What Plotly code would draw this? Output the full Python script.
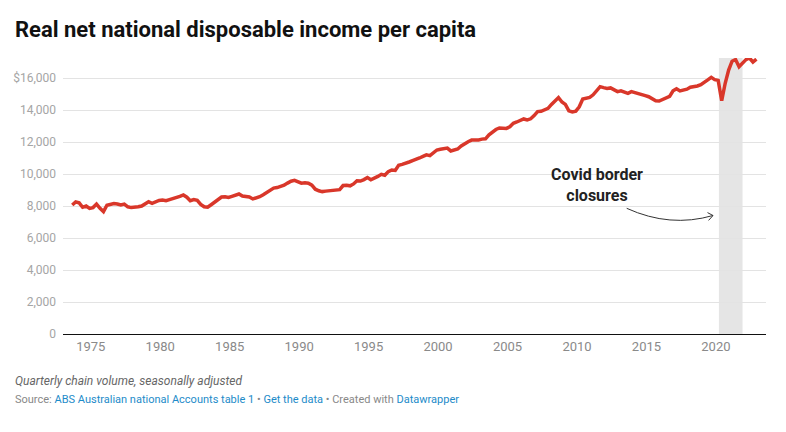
import plotly.graph_objects as go

# ---------------- data ----------------
start_year = 1973
start_quarter_month = 9
income = [
    8060, 8250,
    8200, 7920, 8000, 7850,
    7900, 8120, 7850, 7650,
    8050, 8120, 8150, 8120,
    8060, 8120, 7950, 7900,
    7900, 7950, 8000, 8120,
    8270, 8170, 8250, 8350,
    8370, 8330, 8400, 8450,
    8500, 8600, 8690, 8550,
    8330, 8400, 8350, 8100,
    7950, 7920, 8080, 8250,
    8420, 8560, 8580, 8530,
    8600, 8650, 8750, 8620,
    8600, 8560, 8440, 8500,
    8580, 8700, 8850, 9000,
    9120, 9150, 9200, 9300,
    9430, 9550, 9600, 9500,
    9430, 9450, 9420, 9300,
    9050, 8950, 8900, 8930,
    8960, 8980, 9000, 9020,
    9280, 9300, 9260, 9380,
    9580, 9560, 9650, 9780,
    9640, 9720, 9850, 9980,
    9920, 10150, 10250, 10220,
    10550, 10600, 10700, 10750,
    10830, 10900, 11000, 11100,
    11200, 11150, 11350, 11500,
    11550, 11580, 11620, 11440,
    11520, 11560, 11750, 11900,
    12020, 12120, 12100, 12130,
    12180, 12200, 12450, 12650,
    12780, 12880, 12880, 12850,
    12950, 13170, 13250, 13350,
    13440, 13380, 13450, 13650,
    13900, 13920, 14000, 14100,
    14350, 14600, 14780, 14500,
    14350, 13950, 13880, 13930,
    14200, 14690, 14720, 14790,
    14950, 15200, 15460, 15400,
    15350, 15380, 15250, 15150,
    15200, 15100, 15040, 15150,
    15100, 15050, 15000, 14900,
    14830, 14700, 14580, 14560,
    14650, 14730, 14850, 15200,
    15330, 15190, 15250, 15300,
    15420, 15450, 15500, 15580,
    15700, 15880, 16040, 15900,
    15850, 14580, 15670, 16500,
    17050, 17150, 16700, 16900,
    17150, 17250, 17000, 17180,
]

quarters = []
y, m = start_year, start_quarter_month
for _ in income:
    quarters.append(f"{y}-{m:02d}-01")
    m += 3
    if m > 12:
        m -= 12
        y += 1

x_tick_years = [1975, 1980, 1985, 1990, 1995, 2000, 2005, 2010, 2015, 2020]
y_tick_vals = [0, 2000, 4000, 6000, 8000, 10000, 12000, 14000, 16000]
y_tick_text = ["0", "2,000", "4,000", "6,000", "8,000", "10,000", "12,000", "14,000", "$16,000"]

covid_start = "2020-03-20"
covid_end = "2021-12-01"

title = "Real net national disposable income per capita"
note = "Quarterly chain volume, seasonally adjusted"

FONT = "Roboto"
W, H = 786, 432
ML, MR, MT, MB = 63, 20, 58, 98
PW, PH = W - ML - MR, H - MT - MB


def px(xp):
    return (xp - ML) / PW


def py(yp):
    return (H - MB - yp) / PH


fig = go.Figure()
fig.add_trace(go.Scatter(
    x=quarters, y=income, mode="lines",
    line=dict(color="#d9372a", width=3.5),
    hoverinfo="skip", showlegend=False,
))

shapes = [
    dict(type="rect", xref="x", yref="paper", x0=covid_start, x1=covid_end,
         y0=0, y1=1, fillcolor="#e5e5e5", line=dict(width=0), layer="between"),
    dict(type="path", xref="paper", yref="paper",
         path=f"M {px(626.7)},{py(208.3)} Q {px(670)},{py(228)} {px(713)},{py(215.5)}",
         line=dict(color="#333333", width=1)),
    dict(type="path", xref="paper", yref="paper",
         path=f"M {px(707.5)},{py(212.6)} L {px(713)},{py(215.5)} L {px(708.6)},{py(220.4)}",
         line=dict(color="#333333", width=1)),
]

annotations = [
    dict(text="<b>Covid border<br>closures</b>", xref="paper", yref="paper",
         x=px(596.5), y=py(185), xanchor="center", yanchor="middle",
         showarrow=False, font=dict(family=FONT, size=16, color="#222222")),
    dict(text=f"<i>{note}</i>", xref="paper", yref="paper",
         x=px(13), y=py(381), xanchor="left", yanchor="middle",
         showarrow=False, font=dict(family=FONT, size=12, color="#666666")),
    dict(text=("<span style='color:#888888'>Source: </span>"
               "<span style='color:#1d8bc9'>ABS Australian national Accounts table 1</span>"
               "<span style='color:#888888'> • </span>"
               "<span style='color:#1d8bc9'>Get the data</span>"
               "<span style='color:#888888'> • Created with </span>"
               "<span style='color:#1d8bc9'>Datawrapper</span>"),
         xref="paper", yref="paper", x=px(13), y=py(399.5),
         xanchor="left", yanchor="middle", showarrow=False,
         font=dict(family=FONT, size=11, color="#888888")),
]

fig.update_layout(
    width=W, height=H,
    margin=dict(l=ML, r=MR, t=MT, b=MB),
    paper_bgcolor="white", plot_bgcolor="white",
    font=dict(family=FONT),
    title=dict(text=f"<b>{title}</b>", xref="container", yref="container",
               x=15 / W, xanchor="left", y=1 - 29 / H, yanchor="middle",
               font=dict(family=FONT, size=22, color="#111111")),
    shapes=shapes, annotations=annotations,
    xaxis=dict(type="date", range=["1973-01-01", "2023-08-10"],
               tickvals=[f"{yr}-01-01" for yr in x_tick_years],
               ticktext=[str(yr) for yr in x_tick_years],
               showgrid=False, zeroline=False,
               showline=True, linecolor="#111111", linewidth=1,
               ticks="", tickfont=dict(family=FONT, size=13, color="#8a8a8a")),
    yaxis=dict(range=[0, 17250], tickvals=y_tick_vals, ticktext=y_tick_text,
               showgrid=True, gridcolor="#e3e3e3", gridwidth=1,
               zeroline=False, showline=False, ticks="",
               ticklabelstandoff=6,
               tickfont=dict(family=FONT, size=12, color="#a5a5a5")),
)

fig.write_html("out.html",
               config={"displayModeBar": False, "staticPlot": True},
               post_script="document.body.style.margin='0';document.body.style.padding='0';")
